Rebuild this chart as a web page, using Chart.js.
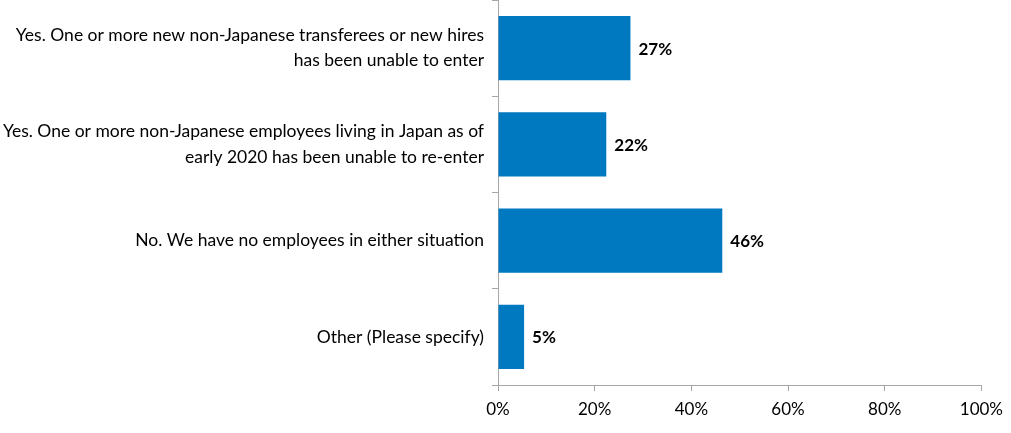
<!DOCTYPE html>
<html>
<head>
<meta charset="utf-8">
<script src="https://cdn.jsdelivr.net/npm/chart.js@4.4.1/dist/chart.umd.min.js"></script>
<style>
  html, body { margin: 0; padding: 0; background: #fff; }
  #wrap { width: 1011px; height: 433px; }
</style>
</head>
<body>
<div id="wrap"><canvas id="myChart"></canvas></div>
<script>
// answers, top to bottom
const categories = [
    ['Yes. One or more new non-Japanese transferees or new hires', 'has been unable to enter'],
    ['Yes. One or more non-Japanese employees living in Japan as of', 'early 2020 has been unable to re-enter'],
    'No. We have no employees in either situation',
    'Other (Please specify)'
];
const shares = [27.4, 22.4, 46.4, 5.4];
const valueLabels = ['27%', '22%', '46%', '5%'];
const xTicks = [0, 20, 40, 60, 80, 100];

const axisGray = '#A6A6A6';
const fontName = 'Lato, "Open Sans", sans-serif';

// draws the bold % next to each bar
let barLabels = {
    id: 'barLabels',
    afterDatasetsDraw: (chart) => {
        let ctx = chart.ctx;
        let meta = chart.getDatasetMeta(0);
        ctx.save();
        ctx.font = 'bold 17px ' + fontName;
        ctx.fillStyle = '#000';
        ctx.textAlign = 'left';
        ctx.textBaseline = 'middle';
        meta.data.forEach((bar, i) => {
            ctx.fillText(valueLabels[i], bar.x + 8, bar.y + 1);
        });
        ctx.restore();
    }
};

let ctx = document.getElementById('myChart').getContext('2d');
let chart1 = new Chart(ctx, {
    type: 'bar',
    data: {
        labels: categories,
        datasets: [{
            data: shares,
            backgroundColor: '#0079C1',
            barPercentage: 0.67,
            categoryPercentage: 1
        }]
    },
    options: {
        indexAxis: 'y',
        responsive: true,
        maintainAspectRatio: false,
        animation: false,
        layout: { padding: { top: 0, right: 23, bottom: 0, left: 0 } },
        plugins: {
            legend: { display: false },
            tooltip: { enabled: false }
        },
        scales: {
            x: {
                min: 0,
                max: 100,
                afterBuildTicks: (scale) => {
                    scale.ticks = xTicks.map(v => ({ value: v }));
                },
                afterFit: (scale) => { scale.height = 48; },
                grid: { drawOnChartArea: false, drawTicks: true, tickLength: 6, color: axisGray },
                border: { color: axisGray, width: 1 },
                ticks: {
                    color: '#000',
                    padding: 8,
                    maxRotation: 0,
                    font: { family: fontName, size: 17 },
                    callback: (v) => v + '%'
                }
            },
            y: {
                afterFit: (scale) => {
                    scale.width = 498;
                    scale.paddingTop = 0;
                    scale.paddingBottom = 0;
                },
                grid: { drawOnChartArea: false, drawTicks: true, tickLength: 6, color: axisGray, offset: true },
                border: { color: axisGray, width: 1 },
                ticks: {
                    color: '#000',
                    padding: 8,
                    font: { family: fontName, size: 17.5, lineHeight: 1.45 }
                }
            }
        }
    },
    plugins: [barLabels]
});
</script>
</body>
</html>
